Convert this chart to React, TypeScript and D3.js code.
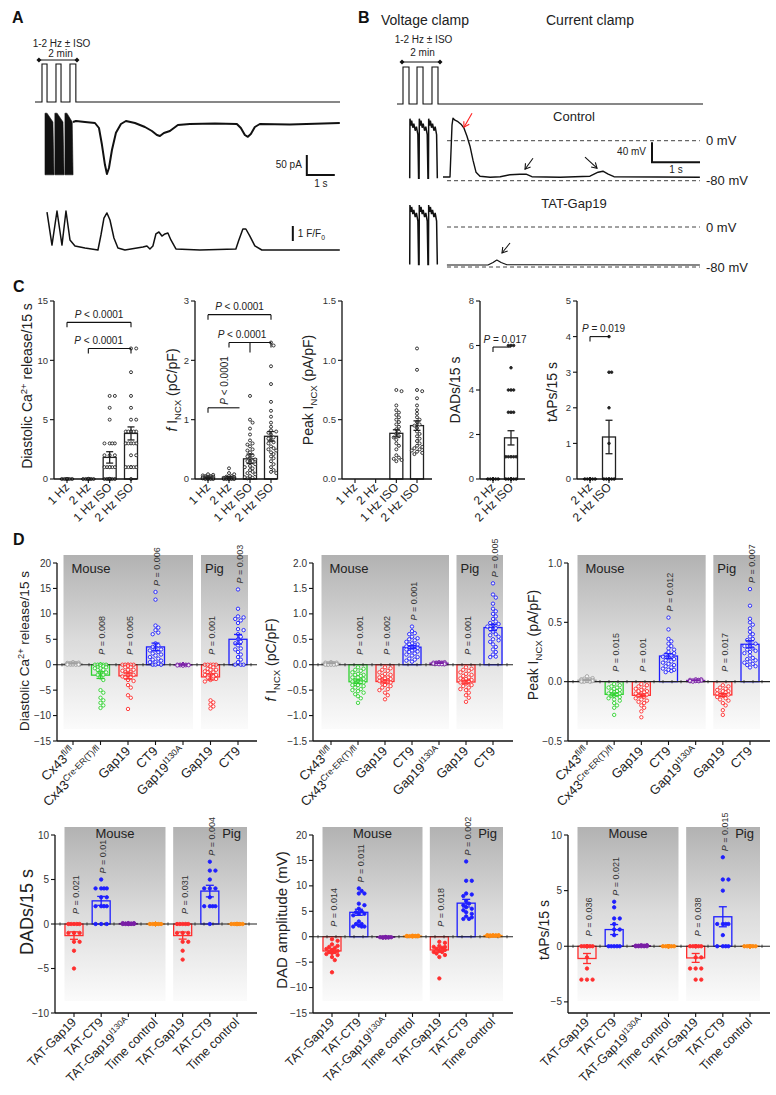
import React from "react";
import * as d3 from "d3";

const FONT = "'Liberation Sans', Arial, Helvetica, sans-serif";
const INK = "#111";
const TXT = "#222";
const C_GREY = "#a0a0a0";
const C_GREEN = "#2fd12f";
const C_RED = "#ff2e2e";
const C_BLUE = "#1e1eff";
const C_PURPLE = "#7a1fa6";
const C_ORANGE = "#ff8a10";

type Seg = [string, string?];

// ---------------- Panel A / B trace data (time in s, signal in pA / mV / F units) ----------------
const protocolPulsesA: [number, number][] = [[0.25, 0.43], [0.75, 0.93], [1.25, 1.46]];
const protocolEndA = 10.9;
const protocolPulsesB: [number, number][] = [[0.125, 0.25], [0.417, 0.542], [0.729, 0.854]];
const protocolEndB = 6.375;

const currentBeatsA: [number, number][][] = [
  [[0.357, 27], [0.43, 27], [0.64, 5], [0.68, -127], [0.357, -127]],
  [[0.71, 27], [0.79, 27], [1.0, 5], [1.04, -127], [0.71, -127]],
  [[1.07, 27], [1.14, 27], [1.33, 5], [1.36, -127], [1.07, -127]],
];
const currentTraceA: [number, number][] = [
  [1.357, 5], [1.464, 7.5], [1.786, 5], [2.143, 2.5], [2.286, -10], [2.393, -52], [2.5, -102], [2.571, -125],
  [2.643, -110], [2.75, -65], [2.893, -22], [3.071, 0], [3.25, 7.5], [3.571, 2.5], [3.929, -7.5], [4.179, -17.5],
  [4.357, -27.5], [4.464, -30], [4.607, -22.5], [4.821, -17.5], [5.107, -2.5], [5.536, 0], [6.43, 1], [7.214, 0],
  [7.357, -10], [7.5, -27.5], [7.607, -32], [7.714, -25], [7.857, -7.5], [8.036, 0], [9.107, -1], [10.893, 2.5],
];
const fluoTraceA: [number, number][] = [
  [0.429, 2.53], [0.607, 0.33], [0.786, 2.6], [0.964, 0.33], [1.107, 2.6], [1.25, 0.67], [1.429, 0.27], [1.786, 0.13],
  [2.25, 0], [2.357, 1.0], [2.464, 2.13], [2.571, 2.47], [2.679, 2.0], [2.821, 0.8], [2.964, 0.13], [3.214, 0],
  [3.857, 0.2], [4.0, 0.27], [4.107, 0.07], [4.214, 0.27], [4.321, 1.07], [4.429, 1.2], [4.536, 0.93], [4.643, 1.07],
  [4.75, 1.13], [4.857, 0.67], [5.036, 0.07], [5.893, 0], [7.179, 0.07], [7.286, 0.67], [7.429, 1.4], [7.536, 1.4],
  [7.679, 0.93], [7.857, 0.27], [8.107, 0], [10.893, 0],
];

const vcBeatShape: [number, number][] = [
  [0, -75], [0.005, 44], [0.025, 30], [0.04, 40], [0.065, 26], [0.085, 34], [0.115, 20], [0.14, 28], [0.17, 12], [0.185, -75],
];
const vcBeatStarts = [0.265, 0.46, 0.655];

const controlTraceB: [number, number][] = [
  [0.958, -72.6], [1.104, -72.6], [1.146, 31], [1.167, 45], [1.208, 41], [1.27, 38], [1.333, 33], [1.396, 25],
  [1.458, 9], [1.521, -11], [1.583, -39], [1.646, -63], [1.729, -71], [1.94, -73], [2.15, -72], [2.354, -68],
  [2.56, -67], [2.69, -67], [2.81, -72], [3.4, -73], [4.02, -71], [4.19, -63], [4.29, -61], [4.4, -67],
  [4.52, -72], [6.31, -73],
];
const tatTraceB: [number, number][] = [
  [1.04, -76], [1.896, -76], [2.0, -71], [2.08, -66], [2.17, -71], [2.29, -75.5], [6.31, -76],
];
const arrowsB = [
  { t1: 1.5625, v1: 55, t2: 1.396, v2: 27, color: "#ff2020", trace: "ctl" },
  { t1: 2.833, v1: -35, t2: 2.667, v2: -57, color: INK, trace: "ctl" },
  { t1: 3.917, v1: -33, t2: 4.167, v2: -55, color: INK, trace: "ctl" },
  { t1: 2.354, v1: -32, t2: 2.1875, v2: -52, color: INK, trace: "tat" },
];

// ---------------- Panel C data ----------------
const cCats: Seg[][] = [[["1 Hz"]], [["2 Hz"]], [["1 Hz ISO"]], [["2 Hz ISO"]]];
const cCats2: Seg[][] = [[["2 Hz"]], [["2 Hz ISO"]]];

const c1_1Hz = [0, 0, 0, 0, 0, 0, 0, 0, 0, 0, 0, 0, 0, 0];
const c1_2Hz = [0, 0, 0, 0, 0, 0, 0, 0, 0, 0, 0, 0, 0, 0];
const c1_1HzISO = [7, 7, 6, 5, 3, 3, 3, 3, 2, 2, 2, 1, 1, 1, 1, 1, 1, 0, 0, 0, 0, 0, 0, 0, 0, 0, 0, 0];
const c1_2HzISO = [11, 11, 9, 7, 6, 5, 5, 4, 4, 4, 4, 4, 4, 3, 3, 3, 3, 3, 2, 2, 1, 1, 1, 1, 1, 1, 0];
const c1Means = [0, 0, 1.82, 3.84];
const c1Sems = [0, 0, 0.48, 0.55];

const c2_1Hz = [0.08, 0.07, 0.06, 0.05, 0.05, 0.04, 0.04, 0.03, 0.03, 0.03, 0.02, 0.02, 0.02, 0.02, 0.01, 0.01, 0.01, 0.01, 0, 0, 0, 0];
const c2_2Hz = [0.18, 0.1, 0.08, 0.05, 0.04, 0.03, 0.02, 0.02, 0.01, 0.01, 0.01, 0, 0, 0, 0, 0, 0, 0];
const c2_1HzISO = [1.4, 1.0, 0.95, 0.85, 0.75, 0.65, 0.6, 0.58, 0.55, 0.5, 0.48, 0.45, 0.4, 0.38, 0.35, 0.33, 0.3, 0.3, 0.28, 0.25, 0.22, 0.2, 0.18, 0.15, 0.12, 0.1, 0.08, 0.05, 0.03, 0.02, 0.01];
const c2_2HzISO = [2.3, 2.25, 1.9, 1.6, 1.3, 1.15, 1.05, 0.95, 0.88, 0.82, 0.8, 0.78, 0.75, 0.7, 0.68, 0.65, 0.62, 0.6, 0.55, 0.52, 0.5, 0.48, 0.45, 0.42, 0.38, 0.35, 0.3, 0.25, 0.2, 0.15, 0.12, 0.1];
const c2Means = [0.02, 0.03, 0.34, 0.72];
const c2Sems = [0.005, 0.015, 0.08, 0.08];

const c3_1HzISO = [0.75, 0.74, 0.62, 0.58, 0.56, 0.54, 0.52, 0.5, 0.48, 0.46, 0.44, 0.42, 0.4, 0.38, 0.36, 0.35, 0.33, 0.3, 0.28, 0.25, 0.2, 0.18, 0.17, 0.16, 0.15];
const c3_2HzISO = [1.1, 0.92, 0.75, 0.74, 0.68, 0.62, 0.58, 0.55, 0.52, 0.5, 0.48, 0.46, 0.45, 0.43, 0.4, 0.38, 0.36, 0.34, 0.32, 0.3, 0.28, 0.27, 0.26, 0.25, 0.24, 0.23, 0.22, 0.21];
const c3Means: (number | null)[] = [null, null, 0.385, 0.45];
const c3Sems = [0, 0, 0.03, 0.04];

const c4_2Hz = [0, 0, 0, 0, 0, 0, 0, 0, 0, 0, 0, 0, 0, 0, 0, 0];
const c4_2HzISO = [6, 6, 6, 5, 4, 4, 4, 3, 3, 3, 1, 1, 1, 1, 1, 0, 0, 0, 0, 0, 0, 0, 0, 0, 0, 0];
const c4Means = [0, 1.85];
const c4Sems = [0, 0.32];

const c5_2Hz = [0, 0, 0, 0, 0, 0, 0, 0, 0, 0, 0, 0];
const c5_2HzISO = [4, 3, 3, 2, 1, 0, 0, 0, 0, 0, 0];
const c5Means = [0, 1.18];
const c5Sems = [0, 0.47];

// ---------------- Panel D data ----------------
const dTopCats: Seg[][] = [
  [["Cx43"], ["fl/fl", "sup"]], [["Cx43"], ["Cre-ER(T)/fl", "sup"]], [["Gap19"]], [["CT9"]],
  [["Gap19"], ["I130A", "sup"]], [["Gap19"]], [["CT9"]],
];
const dBotCats: Seg[][] = [
  [["TAT-Gap19"]], [["TAT-CT9"]], [["TAT-Gap19"], ["I130A", "sup"]], [["Time control"]],
  [["TAT-Gap19"]], [["TAT-CT9"]], [["Time control"]],
];
const dTopColors = [C_GREY, C_GREEN, C_RED, C_BLUE, C_PURPLE, C_RED, C_BLUE];
const dBotColors = [C_RED, C_BLUE, C_PURPLE, C_ORANGE, C_RED, C_BLUE, C_ORANGE];

// D1 diastolic Ca release
const d1Flfl = [0.5, 0.4, 0.35, 0.3, 0.3, 0.25, 0.2, 0.2, 0.2, 0.15, 0.15, 0.1, 0.1, 0.1, 0.1, 0.05, 0.05, 0, 0, 0];
const d1Cre = [0, 0, 0, 0, 0, 0, 0, 0, 0, -0.3, -0.3, -0.5, -0.5, -0.7, -0.7, -1, -1, -1.5, -1.5, -2, -2, -2.5, -3, -5, -5.5, -6.5, -7, -7.5, -8, -8.5];
const d1Gap19 = [0, 0, 0, 0, 0, 0, -0.3, -0.5, -0.5, -1, -1, -1.2, -1.5, -1.5, -2, -2, -2.3, -2.5, -2.5, -3, -3.2, -4, -4.5, -6, -6.5, -8.7];
const d1CT9 = [14.3, 12.8, 7.7, 7.3, 6.8, 6.3, 6.0, 4.2, 3.8, 3.5, 3.0, 3.0, 2.8, 2.5, 2.2, 2.0, 1.8, 1.5, 1.2, 1.0, 0.8, 0.5, 0.5, 0.2, 0, 0, 0];
const d1I130A = [0, 0, 0, 0, 0, 0, 0, 0, 0, 0, 0, 0, 0, 0, -0.05, -0.1, -0.1, -0.1, -0.15, -0.2];
const d1PigGap19 = [0, 0, 0, 0, 0, -0.3, -0.5, -0.8, -1, -1, -1.3, -1.5, -1.5, -1.8, -2, -2, -2.3, -2.5, -2.8, -3, -3.3, -7, -7.4, -7.8, -8.2, -8.6];
const d1PigCT9 = [14.8, 11, 9.5, 9.3, 9, 8.7, 8.2, 7, 6.8, 6, 5.5, 5, 4.5, 4.2, 3.8, 3.2, 3, 2.5, 2, 1.5, 1, 0.5, 0, 0, 0];
const d1Means = [0.2, -2.05, -2.2, 3.5, -0.05, -2.4, 5.0];
const d1Sems = [0.03, 0.65, 0.6, 0.75, 0.02, 0.6, 0.95];
const d1P = [null, "0.008", "0.005", "0.006", null, "0.001", "0.003"];

// D2 f INCX
const d2Flfl = [0.05, 0.04, 0.04, 0.03, 0.03, 0.03, 0.02, 0.02, 0.02, 0.02, 0.01, 0.01, 0.01, 0.01, 0, 0, 0, 0];
const d2Cre = [-0.05, -0.08, -0.1, -0.12, -0.15, -0.18, -0.2, -0.2, -0.22, -0.25, -0.25, -0.28, -0.3, -0.3, -0.32, -0.33, -0.35, -0.35, -0.38, -0.4, -0.4, -0.42, -0.45, -0.48, -0.5, -0.52, -0.55, -0.58, -0.62, -0.66, -0.75];
const d2Gap19 = [-0.05, -0.07, -0.1, -0.12, -0.15, -0.18, -0.2, -0.22, -0.25, -0.25, -0.27, -0.28, -0.3, -0.3, -0.32, -0.33, -0.35, -0.35, -0.37, -0.4, -0.42, -0.45, -0.48, -0.5, -0.55, -0.6, -0.68];
const d2CT9 = [0.75, 0.66, 0.62, 0.6, 0.55, 0.52, 0.5, 0.48, 0.45, 0.42, 0.4, 0.4, 0.38, 0.36, 0.35, 0.33, 0.32, 0.3, 0.3, 0.28, 0.26, 0.25, 0.22, 0.2, 0.18, 0.15, 0.12, 0.1, 0.08, 0.06];
const d2I130A = [0.05, 0.05, 0.04, 0.04, 0.04, 0.03, 0.03, 0.03, 0.03, 0.02, 0.02, 0.02, 0.02, 0.01, 0.01, 0.01];
const d2PigGap19 = [-0.05, -0.08, -0.1, -0.12, -0.15, -0.18, -0.2, -0.22, -0.25, -0.27, -0.28, -0.3, -0.3, -0.32, -0.35, -0.37, -0.4, -0.42, -0.45, -0.48, -0.5, -0.55, -0.6, -0.65, -0.73];
const d2PigCT9 = [1.6, 1.38, 1.32, 1.2, 1.1, 1.05, 1.0, 0.95, 0.9, 0.85, 0.82, 0.8, 0.78, 0.75, 0.72, 0.7, 0.65, 0.6, 0.58, 0.55, 0.5, 0.48, 0.45, 0.4, 0.35, 0.3, 0.25, 0.2, 0.16, 0.15];
const d2Means = [0.025, -0.335, -0.33, 0.345, 0.03, -0.34, 0.73];
const d2Sems = [0.004, 0.035, 0.03, 0.03, 0.003, 0.035, 0.06];
const d2P = [null, "0.001", "0.002", "0.001", null, "0.001", "0.005"];

// D3 peak INCX
const d3Flfl = [0.045, 0.03, 0.025, 0.02, 0.02, 0.015, 0.015, 0.01, 0.01, 0.01, 0.005, 0.005, 0, 0, 0];
const d3Cre = [-0.02, -0.03, -0.04, -0.05, -0.05, -0.06, -0.07, -0.08, -0.08, -0.09, -0.1, -0.1, -0.11, -0.12, -0.12, -0.13, -0.14, -0.15, -0.16, -0.18, -0.2, -0.22, -0.28];
const d3Gap19 = [-0.02, -0.03, -0.04, -0.05, -0.06, -0.07, -0.08, -0.08, -0.09, -0.1, -0.1, -0.11, -0.12, -0.13, -0.14, -0.15, -0.16, -0.17, -0.18, -0.2, -0.22, -0.25, -0.3];
const d3CT9 = [0.54, 0.44, 0.36, 0.34, 0.32, 0.3, 0.28, 0.27, 0.25, 0.24, 0.23, 0.22, 0.21, 0.2, 0.19, 0.18, 0.17, 0.16, 0.15, 0.14, 0.13, 0.12, 0.11, 0.1, 0.1, 0.09, 0.08];
const d3I130A = [0.02, 0.02, 0.015, 0.015, 0.01, 0.01, 0.01, 0.01, 0.005, 0.005, 0.005, 0];
const d3PigGap19 = [-0.03, -0.04, -0.05, -0.06, -0.07, -0.08, -0.08, -0.09, -0.1, -0.1, -0.11, -0.12, -0.13, -0.14, -0.15, -0.16, -0.18, -0.2, -0.24, -0.28];
const d3PigCT9 = [0.78, 0.64, 0.53, 0.5, 0.48, 0.45, 0.42, 0.4, 0.38, 0.36, 0.35, 0.33, 0.32, 0.3, 0.3, 0.28, 0.27, 0.26, 0.25, 0.24, 0.22, 0.2, 0.19, 0.18, 0.17, 0.16, 0.15, 0.14, 0.13, 0.12];
const d3Means = [0.012, -0.107, -0.115, 0.216, 0.01, -0.112, 0.315];
const d3Sems = [0.003, 0.012, 0.012, 0.02, 0.002, 0.012, 0.03];
const d3P = [null, "0.015", "0.01", "0.012", null, "0.017", "0.007"];

// D4 DADs
const d4Gap19 = [0, 0, 0, 0, 0, -1, -1, -1, -2, -2, -3, -5];
const d4CT9 = [5, 4, 4, 4, 4, 3, 3, 2, 2, 2, 2, 0, 0, 0];
const d4I130A = [0.1, 0.1, 0.1, 0.05, 0.05, 0.05, 0, 0, 0, 0, 0, 0];
const d4Time = [0, 0, 0, 0, 0, 0, 0, 0, 0, 0, 0, 0, 0, 0];
const d4PigGap19 = [0, 0, 0, 0, 0, -1, -1, -1, -2, -2, -3, -4];
const d4PigCT9 = [7, 6, 6, 5, 4, 4, 4, 3, 2, 2, 2, 2, 0];
const d4PigTime = [0, 0, 0, 0, 0, 0, 0, 0, 0, 0, 0, 0];
const d4Means = [-1.3, 2.6, 0.05, 0, -1.3, 3.7, 0];
const d4Sems = [0.42, 0.5, 0.02, 0, 0.4, 0.65, 0];
const d4P = ["0.021", "0.01", null, null, "0.031", "0.004", null];

// D5 DAD amplitude
const d5Gap19 = [-0.5, -0.8, -1.5, -1.8, -2, -2.2, -2.4, -2.6, -2.8, -3, -3, -3.2, -3.4, -3.6, -4, -4.6, -7];
const d5CT9 = [9.5, 9, 8.5, 8.5, 6.5, 6.2, 5.5, 5, 4.8, 4.5, 4.5, 4.2, 3, 2.5, 2.5, 2.2, 2, 2, 2];
const d5I130A = [-0.1, -0.1, -0.1, -0.15, -0.15, -0.2, -0.1, -0.05, -0.1, -0.1];
const d5Time = [0.1, 0.1, 0.15, 0.2, 0.2, 0.1, 0.05, 0.1, 0.15, 0.1];
const d5PigGap19 = [-1, -1.2, -1.8, -2, -2, -2.2, -2.4, -2.6, -2.8, -3, -3, -3.3, -3.6, -4, -8.2];
const d5PigCT9 = [14.8, 11, 11, 8.5, 8.3, 8, 7, 6.5, 6.2, 5.8, 5.5, 5.2, 4.8, 4.5, 4, 3.8, 3.5, 3.5];
const d5PigTime = [0.3, 0.3, 0.2, 0.25, 0.2, 0.15, 0.3, 0.2, 0.25, 0.2];
const d5Means = [-2.8, 4.8, -0.11, 0.13, -2.6, 6.6, 0.23];
const d5Sems = [0.4, 0.6, 0.02, 0.02, 0.4, 0.75, 0.02];
const d5P = ["0.014", "0.011", null, null, "0.018", "0.002", null];

// D6 tAPs
const d6Gap19 = [0, 0, 0, 0, 0, 0, 0, 0, -1, -2, -3, -3, -3];
const d6CT9 = [4, 3.5, 2.5, 2.5, 2, 1.5, 1.5, 1, 0, 0, 0, 0, 0];
const d6I130A = [0.1, 0.1, 0.05, 0.05, 0.05, 0, 0, 0, 0, 0];
const d6Time = [0, 0, 0, 0, 0, 0, 0, 0, 0, 0, 0, 0];
const d6PigGap19 = [0, 0, 0, 0, 0, 0, 0, -1, -1, -2, -2, -2, -3, -3];
const d6PigCT9 = [8, 6, 6, 5, 2, 2, 2, 2, 1, 0, 0, 0, 0];
const d6PigTime = [0, 0, 0, 0, 0, 0, 0, 0, 0, 0, 0, 0];
const d6Means = [-1.1, 1.5, 0.05, 0, -1.05, 2.65, 0];
const d6Sems = [0.45, 0.45, 0.02, 0, 0.4, 0.9, 0];
const d6P = ["0.036", "0.021", null, null, "0.038", "0.015", null];

// ---------------- helpers ----------------
function rich(segs: Seg[], fs: number) {
  let shift = 0;
  return segs.map(([t, k], i) => {
    const small = k === "sup" || k === "sub";
    const target = k === "sup" ? -0.38 * fs : k === "sub" ? 0.28 * fs : 0;
    const dy = target - shift;
    shift = target;
    return (
      <tspan key={i} dy={dy !== 0 ? dy : undefined} fontSize={small ? fs * 0.68 : undefined}
        fontStyle={k === "i" ? "italic" : undefined}>{t}</tspan>
    );
  });
}

function swarm(values: number[], ys: (v: number) => number, r: number, step: number, spread: number) {
  const pts = values.map((v) => ({ v, py: ys(v), dx: 0 }));
  pts.sort((a, b) => a.py - b.py);
  const offs = [0];
  for (let k = 1; k * step <= spread + 1e-6; k++) { offs.push(k * step); offs.push(-k * step); }
  const placed: { py: number; dx: number }[] = [];
  for (const p of pts) {
    let best = 0, bestD = -1;
    for (const o of offs) {
      let m = Infinity;
      for (const q of placed) { const d = Math.hypot(q.dx - o, q.py - p.py); if (d < m) m = d; }
      if (m >= 2 * r) { best = o; bestD = m; break; }
      if (m > bestD) { bestD = m; best = o; }
    }
    p.dx = best;
    placed.push(p);
  }
  return pts;
}

type Bracket = { a: number; b: number; level: number; text: string; ticks: number[]; mid?: number; dx?: number; vertical?: boolean };
type Region = { a: number; b: number; label: string; anchor: "start" | "middle" | "end"; dx: number; dy: number };

interface PanelSpec {
  x0: number; x1: number; y0: number; y1: number;
  domain: [number, number]; ticks: number[]; fmt: (v: number) => string; tickSize: number;
  catRange: [number, number]; cats: Seg[][];
  values: number[][]; means: (number | null)[]; sems: number[]; colors: string[];
  barW: number; capW: number; dotR: number; dotFill: string | null; step: number; spread: number;
  ylabel: Seg[]; ylx: number; yly: number; yls: number;
  catSize: number; catDx: number; catDy: number;
  zeroLine?: boolean; regions?: Region[]; pvals?: (string | null)[]; brackets?: Bracket[];
}

function DotBarPanel({ s }: { s: PanelSpec }) {
  const y = d3.scaleLinear().domain(s.domain).range([s.y1, s.y0]);
  const n = s.cats.length;
  const xs = d3.scalePoint<number>().domain(d3.range(n)).range(s.catRange);
  const stepX = n > 1 ? (s.catRange[1] - s.catRange[0]) / (n - 1) : 0;
  const xAt = (i: number) => s.catRange[0] + i * stepX;
  const yz = y(0);
  const els: React.ReactNode[] = [];

  (s.regions || []).forEach((r, i) => {
    const xa = (xs(r.a) as number) - 9.5;
    const xb = (xs(r.b) as number) + 10;
    els.push(<rect key={"rg" + i} x={xa} y={s.y0 - 8} width={xb - xa} height={s.y1 - 12 - (s.y0 - 8)} fill="url(#bgGrad)" />);
    const tx = r.anchor === "start" ? xa + r.dx : r.anchor === "end" ? xb + r.dx : (xa + xb) / 2 + r.dx;
    els.push(<text key={"rl" + i} x={tx} y={s.y0 + r.dy} textAnchor={r.anchor} fontSize={13} fill={TXT}>{r.label}</text>);
  });

  // bars
  s.means.forEach((m, i) => {
    if (m === null) return;
    const cx = xs(i) as number;
    const top = y(Math.max(0, m)), bot = y(Math.min(0, m));
    els.push(<rect key={"b" + i} x={cx - s.barW / 2} y={top} width={s.barW} height={Math.max(0.01, bot - top)}
      fill="none" stroke={s.colors[i]} strokeWidth={1.3} />);
  });

  if (s.zeroLine) {
    els.push(<line key="zl" x1={s.x0} x2={s.x1} y1={yz} y2={yz} stroke="#222" strokeWidth={1.1} />);
    d3.range(s.x0 + 5, s.x1, 9).forEach((tx, i) => {
      els.push(<line key={"zt" + i} x1={tx} x2={tx} y1={yz - 1.6} y2={yz + 1.6} stroke="#222" strokeWidth={0.8} />);
    });
  }

  // dots
  s.values.forEach((vals, i) => {
    const cx = xs(i) as number;
    const pts = swarm(vals, (v) => y(v), s.dotR, s.step, s.spread);
    pts.forEach((p, j) => {
      els.push(<circle key={`d${i}_${j}`} cx={cx + p.dx} cy={p.py} r={s.dotR}
        fill={s.dotFill === null ? s.colors[i] : s.dotFill} fillOpacity={s.dotFill === null ? 1 : 0.75}
        stroke={s.colors[i]} strokeWidth={0.9} />);
    });
  });

  // error bars
  s.means.forEach((m, i) => {
    if (m === null || !s.sems[i]) return;
    const cx = xs(i) as number;
    const ya = y(m + s.sems[i]), yb = y(m - s.sems[i]);
    els.push(<g key={"e" + i} stroke={s.colors[i]} strokeWidth={1.3}>
      <line x1={cx} x2={cx} y1={ya} y2={yb} />
      <line x1={cx - s.capW / 2} x2={cx + s.capW / 2} y1={ya} y2={ya} />
      <line x1={cx - s.capW / 2} x2={cx + s.capW / 2} y1={yb} y2={yb} />
    </g>);
  });

  // axes
  els.push(<line key="ya" x1={s.x0} x2={s.x0} y1={s.y0} y2={s.y1} stroke={INK} strokeWidth={1.3} />);
  els.push(<line key="xa" x1={s.x0} x2={s.x1} y1={s.y1} y2={s.y1} stroke={INK} strokeWidth={1.3} />);
  s.ticks.forEach((t, i) => {
    els.push(<line key={"yt" + i} x1={s.x0 - 4} x2={s.x0} y1={y(t)} y2={y(t)} stroke={INK} strokeWidth={1.1} />);
    els.push(<text key={"ytl" + i} x={s.x0 - 6} y={y(t)} dy="0.35em" textAnchor="end" fontSize={s.tickSize} fill="#333">{s.fmt(t)}</text>);
  });
  s.cats.forEach((c, i) => {
    const cx = xs(i) as number;
    els.push(<line key={"xt" + i} x1={cx} x2={cx} y1={s.y1} y2={s.y1 + 4} stroke={INK} strokeWidth={1.1} />);
    const lx = cx + s.catDx, ly = s.y1 + s.catDy;
    els.push(<text key={"xl" + i} x={lx} y={ly} textAnchor="end" fontSize={s.catSize} fill={TXT}
      transform={`rotate(-45 ${lx} ${ly})`}>{rich(c, s.catSize)}</text>);
  });

  // p values
  (s.pvals || []).forEach((p, i) => {
    if (!p) return;
    const cx = xs(i) as number;
    const m = s.means[i] ?? 0;
    const base = Math.max(0, d3.max(s.values[i]) ?? 0, m + s.sems[i]);
    const sy = base > 0 ? y(base) - 6 : yz - 10;
    const tx = cx + 5;
    els.push(<text key={"p" + i} x={tx} y={sy} fontSize={9} fill="#333" transform={`rotate(-90 ${tx} ${sy})`}>
      {rich([["P", "i"], [" = " + p]], 9)}</text>);
  });

  // brackets
  (s.brackets || []).forEach((b, i) => {
    const xa = xAt(b.a), xb = xAt(b.b), yb = y(b.level);
    els.push(<line key={"bh" + i} x1={xa} x2={xb} y1={yb} y2={yb} stroke={INK} strokeWidth={1.1} />);
    b.ticks.forEach((t, j) => {
      els.push(<line key={`bt${i}_${j}`} x1={xAt(t)} x2={xAt(t)} y1={yb} y2={yb + 5} stroke={INK} strokeWidth={1.1} />);
    });
    if (b.mid !== undefined) {
      els.push(<line key={"bm" + i} x1={xAt(b.mid)} x2={xAt(b.mid)} y1={yb} y2={yb + 10} stroke={INK} strokeWidth={1.1} />);
    }
    if (b.vertical) {
      const tx = (xa + xb) / 2 + (b.dx || 0), ty = yb - 3;
      els.push(<text key={"btx" + i} x={tx} y={ty} fontSize={10} fill={TXT} transform={`rotate(-90 ${tx} ${ty})`}>
        {rich([["P", "i"], [" " + b.text]], 10)}</text>);
    } else {
      els.push(<text key={"btx" + i} x={(xa + xb) / 2 + (b.dx || 0)} y={yb - 4.5} fontSize={10} fill={TXT} textAnchor="middle">
        {rich([["P", "i"], [" " + b.text]], 10)}</text>);
    }
  });

  els.push(<text key="ylab" x={s.ylx} y={s.yly} textAnchor="middle" fontSize={s.yls} fill={TXT}
    transform={`rotate(-90 ${s.ylx} ${s.yly})`}>{rich(s.ylabel, s.yls)}</text>);

  return <g>{els}</g>;
}

const f0 = (v: number) => d3.format("d")(v);
const f1 = (v: number) => d3.format(".1f")(v);

const caLabel: Seg[] = [["Diastolic Ca"], ["2+", "sup"], [" release/15 s"]];
const fIncxLabel: Seg[] = [["f", "i"], [" I"], ["NCX", "sub"], [" (pC/pF)"]];
const peakLabel: Seg[] = [["Peak I"], ["NCX", "sub"], [" (pA/pF)"]];

const cBase = {
  y0: 301, y1: 479, tickSize: 9.5, barW: 13, capW: 7, dotR: 1.5, dotFill: "#ffffff", step: 2.6, spread: 6,
  catSize: 12, catDx: 3, catDy: 9, yls: 14,
};
const dTopBase = {
  y0: 563, y1: 741, tickSize: 10, barW: 18, capW: 8, dotR: 1.7, dotFill: "#ffffff", step: 2.8, spread: 8,
  catSize: 13, catDx: 3, catDy: 11, zeroLine: true, cats: dTopCats, colors: dTopColors,
  regions: [
    { a: 0, b: 4, label: "Mouse", anchor: "start", dx: 8, dy: 10 },
    { a: 5, b: 6, label: "Pig", anchor: "start", dx: 4, dy: 10 },
  ] as Region[],
};
const dBotBase = {
  y0: 835, y1: 1013, tickSize: 10, barW: 18, capW: 8, dotR: 1.7, dotFill: null, step: 2.8, spread: 8,
  catSize: 12.5, catDx: 3, catDy: 10, zeroLine: true, cats: dBotCats, colors: dBotColors,
  regions: [
    { a: 0, b: 3, label: "Mouse", anchor: "middle", dx: 0, dy: 3 },
    { a: 4, b: 6, label: "Pig", anchor: "end", dx: -6, dy: 3 },
  ] as Region[],
};
const CK = "#222";

const panels: PanelSpec[] = [
  {
    ...cBase, x0: 54, x1: 137, domain: [0, 15], ticks: [0, 5, 10, 15], fmt: f0, catRange: [67, 131], cats: cCats,
    values: [c1_1Hz, c1_2Hz, c1_1HzISO, c1_2HzISO], means: c1Means, sems: c1Sems, colors: [CK, CK, CK, CK],
    ylabel: caLabel, ylx: 32, yly: 386,
    brackets: [
      { a: 0, b: 3, level: 13.2, text: "< 0.0001", ticks: [0, 3] },
      { a: 1, b: 3, level: 11.0, text: "< 0.0001", ticks: [1, 3], dx: -11 },
    ],
  },
  {
    ...cBase, x0: 195, x1: 277, domain: [0, 3], ticks: [0, 1, 2, 3], fmt: f0, catRange: [208, 271], cats: cCats,
    values: [c2_1Hz, c2_2Hz, c2_1HzISO, c2_2HzISO], means: c2Means, sems: c2Sems, colors: [CK, CK, CK, CK],
    ylabel: fIncxLabel, ylx: 177, yly: 390,
    brackets: [
      { a: 0, b: 3, level: 2.77, text: "< 0.0001", ticks: [0, 3] },
      { a: 1, b: 3, level: 2.3, text: "< 0.0001", ticks: [1, 3], mid: 2, dx: -8 },
      { a: 0, b: 1.5, level: 1.2, text: "< 0.0001", ticks: [0], vertical: true, dx: 4 },
    ],
  },
  {
    ...cBase, x0: 342, x1: 432, domain: [0, 1.5], ticks: [0, 0.5, 1, 1.5], fmt: f1, catRange: [355, 417], cats: cCats,
    values: [[], [], c3_1HzISO, c3_2HzISO], means: c3Means, sems: c3Sems, colors: [CK, CK, CK, CK],
    ylabel: peakLabel, ylx: 313, yly: 390,
  },
  {
    ...cBase, x0: 480, x1: 525, domain: [0, 8], ticks: [0, 2, 4, 6, 8], fmt: f0, catRange: [493, 511], cats: cCats2,
    values: [c4_2Hz, c4_2HzISO], means: c4Means, sems: c4Sems, colors: [CK, CK], dotFill: null, dotR: 1.3,
    ylabel: [["DADs/15 s"]], ylx: 460, yly: 390,
    brackets: [{ a: 0, b: 1, level: 5.93, text: "= 0.017", ticks: [0], dx: 3 }],
  },
  {
    ...cBase, x0: 577, x1: 623, domain: [0, 5], ticks: [0, 1, 2, 3, 4, 5], fmt: f0, catRange: [590, 609], cats: cCats2,
    values: [c5_2Hz, c5_2HzISO], means: c5Means, sems: c5Sems, colors: [CK, CK], dotFill: null, dotR: 1.3,
    ylabel: [["tAPs/15 s"]], ylx: 557, yly: 392,
    brackets: [{ a: 0, b: 1, level: 4.0, text: "= 0.019", ticks: [0], dx: 4 }],
  },
  {
    ...dTopBase, x0: 57, x1: 257, domain: [-15, 20], ticks: [-15, -10, -5, 0, 5, 10, 15, 20], fmt: f0, catRange: [73, 238],
    values: [d1Flfl, d1Cre, d1Gap19, d1CT9, d1I130A, d1PigGap19, d1PigCT9], means: d1Means, sems: d1Sems, pvals: d1P,
    ylabel: caLabel, ylx: 29, yly: 651, yls: 13.5,
  },
  {
    ...dTopBase, x0: 313, x1: 513, domain: [-1.5, 2], ticks: [-1.5, -1, -0.5, 0, 0.5, 1, 1.5, 2], fmt: f1, catRange: [331, 493],
    values: [d2Flfl, d2Cre, d2Gap19, d2CT9, d2I130A, d2PigGap19, d2PigCT9], means: d2Means, sems: d2Sems, pvals: d2P,
    ylabel: fIncxLabel, ylx: 276, yly: 660, yls: 14,
  },
  {
    ...dTopBase, x0: 568, x1: 770, domain: [-0.5, 1], ticks: [-0.5, 0, 0.5, 1], fmt: f1, catRange: [587, 750],
    values: [d3Flfl, d3Cre, d3Gap19, d3CT9, d3I130A, d3PigGap19, d3PigCT9], means: d3Means, sems: d3Sems, pvals: d3P,
    ylabel: peakLabel, ylx: 538, yly: 645, yls: 14,
  },
  {
    ...dBotBase, x0: 55, x1: 257, domain: [-10, 10], ticks: [-10, -5, 0, 5, 10], fmt: f0, catRange: [74, 237],
    values: [d4Gap19, d4CT9, d4I130A, d4Time, d4PigGap19, d4PigCT9, d4PigTime], means: d4Means, sems: d4Sems, pvals: d4P,
    ylabel: [["DADs/15 s"]], ylx: 33, yly: 912, yls: 18,
  },
  {
    ...dBotBase, x0: 313, x1: 513, domain: [-15, 20], ticks: [-15, -10, -5, 0, 5, 10, 15, 20], fmt: f0, catRange: [332, 493],
    values: [d5Gap19, d5CT9, d5I130A, d5Time, d5PigGap19, d5PigCT9, d5PigTime], means: d5Means, sems: d5Sems, pvals: d5P,
    ylabel: [["DAD amplitude (mV)"]], ylx: 287, yly: 920, yls: 15,
  },
  {
    ...dBotBase, x0: 568, x1: 770, domain: [-6, 10], ticks: [-5, 0, 5, 10], fmt: f0, catRange: [587, 750],
    values: [d6Gap19, d6CT9, d6I130A, d6Time, d6PigGap19, d6PigCT9, d6PigTime], means: d6Means, sems: d6Sems, pvals: d6P,
    ylabel: [["tAPs/15 s"]], ylx: 549, yly: 930, yls: 14,
  },
];

// ---------------- scales for A/B ----------------
const xA = d3.scaleLinear().domain([0, 10.9]).range([35, 340]);
const yProtA = d3.scaleLinear().domain([0, 1]).range([102, 64]);
const yCurA = d3.scaleLinear().domain([-130, 30]).range([176, 112]);
const yFluoA = d3.scaleLinear().domain([0, 3]).range([250, 205]);
const xB = d3.scaleLinear().domain([0, 6.5]).range([397, 709]);
const yProtB = d3.scaleLinear().domain([0, 1]).range([104, 67]);
const yCtl = d3.scaleLinear().domain([-80, 0]).range([180.7, 140.7]);
const yTat = d3.scaleLinear().domain([-80, 0]).range([267, 227]);

function protocolPoints(pulses: [number, number][], end: number): [number, number][] {
  const pts: [number, number][] = [[0, 0]];
  pulses.forEach(([a, b]) => { pts.push([a, 0], [a, 1], [b, 1], [b, 0]); });
  pts.push([end, 0]);
  return pts;
}

function linePath(pts: [number, number][], x: (v: number) => number, y: (v: number) => number, closed = false) {
  const p = d3.line<[number, number]>().x((d) => x(d[0])).y((d) => y(d[1]))(pts) || "";
  return closed ? p + "Z" : p;
}

function Arrow({ x1, y1, x2, y2, color }: { x1: number; y1: number; x2: number; y2: number; color: string }) {
  const ang = Math.atan2(y2 - y1, x2 - x1);
  const L = 6, a = 0.55;
  const p1 = [x2 - L * Math.cos(ang - a), y2 - L * Math.sin(ang - a)];
  const p2 = [x2 - L * Math.cos(ang + a), y2 - L * Math.sin(ang + a)];
  return (
    <g stroke={color} strokeWidth={1.1} fill="none">
      <line x1={x1} y1={y1} x2={x2} y2={y2} />
      <polyline points={`${p1[0]},${p1[1]} ${x2},${y2} ${p2[0]},${p2[1]}`} />
    </g>
  );
}

function StimHeader({ cx, y1, y2, xa, xb, ly }: { cx: number; y1: number; y2: number; xa: number; xb: number; ly: number }) {
  const dia = (x: number) => `M${x - 2.5},${ly} L${x},${ly - 2.5} L${x + 2.5},${ly} L${x},${ly + 2.5} Z`;
  return (
    <g>
      <text x={cx} y={y1} fontSize={10} textAnchor="middle" fill={TXT}>1-2 Hz ± ISO</text>
      <text x={cx - 1} y={y2} fontSize={10} textAnchor="middle" fill={TXT}>2 min</text>
      <line x1={xa} x2={xb} y1={ly} y2={ly} stroke={INK} strokeWidth={1} />
      <path d={dia(xa)} fill={INK} />
      <path d={dia(xb)} fill={INK} />
    </g>
  );
}

export default function App() {
  const beatPts = (start: number) => vcBeatShape.map(([t, v]) => [start + t, v] as [number, number]);
  const vcTrace: [number, number][] = vcBeatStarts.flatMap((s) => beatPts(s));
  return (
    <div style={{ position: "absolute", left: 0, top: 0, background: "#fff" }}>
      <svg width={776} height={1095} viewBox="0 0 776 1095" fontFamily={FONT} style={{ display: "block" }}>
        <defs>
          <linearGradient id="bgGrad" x1="0" y1="0" x2="0" y2="1">
            <stop offset="0%" stopColor="#b2b2b2" />
            <stop offset="50%" stopColor="#dcdcdc" />
            <stop offset="100%" stopColor="#fbfbfb" />
          </linearGradient>
        </defs>
        <rect x={0} y={0} width={776} height={1095} fill="#fff" />

        {/* Panel labels */}
        <text x={12} y={23} fontSize={16} fontWeight="bold" fill={INK}>A</text>
        <text x={358} y={23} fontSize={16} fontWeight="bold" fill={INK}>B</text>
        <text x={13} y={292} fontSize={16} fontWeight="bold" fill={INK}>C</text>
        <text x={13} y={545} fontSize={16} fontWeight="bold" fill={INK}>D</text>

        {/* ---------- Panel A ---------- */}
        <StimHeader cx={61.5} y1={47} y2={57} xa={xA(0.14)} xb={xA(1.5)} ly={60} />
        <path d={linePath(protocolPoints(protocolPulsesA, protocolEndA), xA, yProtA)} fill="none" stroke={INK} strokeWidth={1.1} />
        {currentBeatsA.map((b, i) => (
          <path key={"cb" + i} d={linePath(b, xA, yCurA, true)} fill={INK} stroke={INK} strokeWidth={0.6} />
        ))}
        <path d={linePath(currentTraceA, xA, yCurA)} fill="none" stroke={INK} strokeWidth={2} strokeLinejoin="round" />
        <path d={linePath(fluoTraceA, xA, yFluoA)} fill="none" stroke={INK} strokeWidth={1.5} strokeLinejoin="round" />
        {/* scale bars A */}
        <path d={`M${xA(9.714)},${yCurA(-77.5)} V${yCurA(-127.5)} H${xA(10.714)}`} fill="none" stroke={INK} strokeWidth={2} />
        <text x={xA(9.714) - 5} y={168} fontSize={10} textAnchor="end" fill={TXT}>50 pA</text>
        <text x={xA(10.214)} y={187} fontSize={10} textAnchor="middle" fill={TXT}>1 s</text>
        <line x1={xA(9.214)} x2={xA(9.214)} y1={yFluoA(0.6)} y2={yFluoA(1.6)} stroke={INK} strokeWidth={2} />
        <text x={xA(9.214) + 5} y={237} fontSize={10} fill={TXT}>{rich([["1 F/F"], ["0", "sub"]], 10)}</text>

        {/* ---------- Panel B ---------- */}
        <text x={381} y={25} fontSize={14} fill={TXT}>Voltage clamp</text>
        <text x={546} y={25} fontSize={14} fill={TXT}>Current clamp</text>
        <StimHeader cx={423.5} y1={43} y2={56} xa={xB(0.104)} xb={xB(0.896)} ly={62} />
        <path d={linePath(protocolPoints(protocolPulsesB, protocolEndB), xB, yProtB)} fill="none" stroke={INK} strokeWidth={1.1} />
        <text x={574} y={121} fontSize={13} textAnchor="middle" fill={TXT}>Control</text>
        <text x={574} y={208} fontSize={13} textAnchor="middle" fill={TXT}>TAT-Gap19</text>
        <path d={linePath(vcTrace, xB, yCtl)} fill="none" stroke={INK} strokeWidth={1.5} />
        <path d={linePath(vcTrace, xB, yTat)} fill="none" stroke={INK} strokeWidth={1.5} />
        {[0, -80].map((v) => (
          <g key={"dl" + v}>
            <line x1={xB(1.042)} x2={xB(6.31)} y1={yCtl(v)} y2={yCtl(v)} stroke={INK} strokeWidth={0.8} strokeDasharray="4,3" />
            <line x1={xB(1.042)} x2={xB(6.31)} y1={yTat(v)} y2={yTat(v)} stroke={INK} strokeWidth={0.8} strokeDasharray="4,3" />
            <text x={706} y={yCtl(v) + 4.5} fontSize={13} fill={TXT}>{v} mV</text>
            <text x={706} y={yTat(v) + 4.5} fontSize={13} fill={TXT}>{v} mV</text>
          </g>
        ))}
        <path d={linePath(controlTraceB, xB, yCtl)} fill="none" stroke={INK} strokeWidth={1.4} strokeLinejoin="round" />
        <path d={linePath(tatTraceB, xB, yTat)} fill="none" stroke={INK} strokeWidth={1.2} strokeLinejoin="round" />
        {arrowsB.map((a, i) => {
          const ys = a.trace === "ctl" ? yCtl : yTat;
          return <Arrow key={"ar" + i} x1={xB(a.t1)} y1={ys(a.v1)} x2={xB(a.t2)} y2={ys(a.v2)} color={a.color} />;
        })}
        <path d={`M${xB(5.3125)},${yCtl(-3)} V${yCtl(-43)} H${xB(6.3125)}`} fill="none" stroke={INK} strokeWidth={2} />
        <text x={xB(5.3125) - 6} y={155} fontSize={10} textAnchor="end" fill={TXT}>40 mV</text>
        <text x={xB(5.8125)} y={173} fontSize={10} textAnchor="middle" fill={TXT}>1 s</text>

        {/* ---------- Panels C & D ---------- */}
        {panels.map((p, i) => <DotBarPanel key={"pn" + i} s={p} />)}
      </svg>
    </div>
  );
}
